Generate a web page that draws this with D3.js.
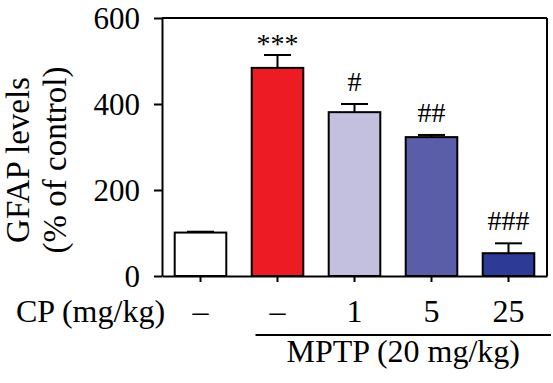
<!DOCTYPE html>
<html>
<head>
<meta charset="utf-8">
<script src="https://cdn.jsdelivr.net/npm/d3@7"></script>
<style>
  body { margin: 0; background: #fff; }
  svg text { font-family: "Liberation Serif", "Times New Roman", Times, "DejaVu Serif", serif !important; fill: #000; }
</style>
</head>
<body>
<div id="chart"></div>
<script>
// data
var groups = ["control", "MPTP", "MPTP+CP1", "MPTP+CP5", "MPTP+CP25"];
var gfap = [101, 484, 381, 323, 53];
var sem = [2, 30, 19, 5, 23];
var marks = ["", "***", "#", "##", "###"];
var cpLabels = ["\u2013", "\u2013", "1", "5", "25"];
var barColors = ["#ffffff", "#ed1c24", "#c2bfdf", "#5a5ea8", "#2e3b96"];
var yTicks = [0, 200, 400, 600];

var svgWidth = 553;
var svgHeight = 383;
var serif = "'Liberation Serif', 'Times New Roman', serif";

var margin = { top: 18, right: 6, bottom: 107, left: 162 };
var width = svgWidth - margin.left - margin.right;
var height = svgHeight - margin.top - margin.bottom;

var svg = d3.select("#chart")
  .append("svg")
  .attr("width", svgWidth)
  .attr("height", svgHeight)
  .attr("font-family", serif);

var chartGroup = svg.append("g")
  .attr("transform", `translate(${margin.left}, ${margin.top})`);

// scales
var x = d3.scaleBand()
  .domain(groups)
  .range([0, width])
  .paddingInner(0.33)
  .paddingOuter(0.165);

var y = d3.scaleLinear()
  .domain([0, 600])
  .range([height, 0]);

// bars
chartGroup.selectAll(".bar")
  .data(groups)
  .enter()
  .append("rect")
  .attr("x", d => x(d))
  .attr("y", (d, i) => y(gfap[i]))
  .attr("width", x.bandwidth())
  .attr("height", (d, i) => y(0) - y(gfap[i]))
  .attr("fill", (d, i) => barColors[i])
  .attr("stroke", "#000")
  .attr("stroke-width", 2);

// error bars (upper only)
var capW = 27;
groups.forEach(function(g, i) {
  var cx = x(g) + x.bandwidth() / 2;
  chartGroup.append("line")
    .attr("x1", cx).attr("x2", cx)
    .attr("y1", y(gfap[i])).attr("y2", y(gfap[i] + sem[i]))
    .attr("stroke", "#000").attr("stroke-width", 2);
  chartGroup.append("line")
    .attr("x1", cx - capW / 2).attr("x2", cx + capW / 2)
    .attr("y1", y(gfap[i] + sem[i])).attr("y2", y(gfap[i] + sem[i]))
    .attr("stroke", "#000").attr("stroke-width", 2);

  // significance marks
  var off = marks[i].indexOf("*") >= 0 ? 2 : 13;
  chartGroup.append("text")
    .attr("x", cx)
    .attr("y", y(gfap[i] + sem[i]) - off)
    .attr("text-anchor", "middle")
    .style("font-size", "28px")
    .text(marks[i]);
});

// y axis
var leftAxis = d3.axisLeft(y)
  .tickValues(yTicks)
  .tickSize(8)
  .tickSizeOuter(0)
  .tickPadding(14);

var yAxis = chartGroup.append("g").call(leftAxis);
yAxis.attr("font-family", serif);
yAxis.selectAll("text").style("font-size", "31px").attr("dy", "0.33em");

// x axis
var bottomAxis = d3.axisBottom(x)
  .tickSize(6)
  .tickSizeOuter(0)
  .tickFormat("");

var xAxis = chartGroup.append("g")
  .attr("transform", `translate(0, ${height})`)
  .call(bottomAxis);

chartGroup.selectAll(".domain, .tick line")
  .attr("stroke", "#000")
  .attr("stroke-width", 2);

// top and right frame
chartGroup.append("line")
  .attr("x1", 0).attr("x2", width)
  .attr("y1", y(600)).attr("y2", y(600))
  .attr("stroke", "#000").attr("stroke-width", 2);
chartGroup.append("line")
  .attr("x1", width).attr("x2", width)
  .attr("y1", y(600)).attr("y2", y(0))
  .attr("stroke", "#000").attr("stroke-width", 2);

// CP dose row
chartGroup.selectAll(".cp")
  .data(groups)
  .enter()
  .append("text")
  .attr("x", d => x(d) + x.bandwidth() / 2)
  .attr("y", height + 46)
  .attr("text-anchor", "middle")
  .style("font-size", "32px")
  .text((d, i) => cpLabels[i]);

svg.append("text")
  .attr("x", 16)
  .attr("y", margin.top + height + 46)
  .style("font-size", "32px")
  .text("CP (mg/kg)");

// MPTP bracket line
var lineStart = x(groups[1]) + x.bandwidth() / 2 - 22;
chartGroup.append("line")
  .attr("x1", lineStart).attr("x2", width + 4)
  .attr("y1", height + 59).attr("y2", height + 59)
  .attr("stroke", "#000").attr("stroke-width", 2);

chartGroup.append("text")
  .attr("x", (lineStart + width + 4) / 2)
  .attr("y", height + 86)
  .attr("text-anchor", "middle")
  .style("font-size", "32px")
  .text("MPTP (20 mg/kg)");

// y axis title
var yTitle = svg.append("text")
  .attr("transform", "translate(29, 160) rotate(-90)")
  .attr("text-anchor", "middle")
  .style("font-size", "33px");
yTitle.append("tspan").attr("x", 0).attr("y", 0).text("GFAP levels");
yTitle.append("tspan").attr("x", 0).attr("y", 37).text("(% of control)");
</script>
</body>
</html>
